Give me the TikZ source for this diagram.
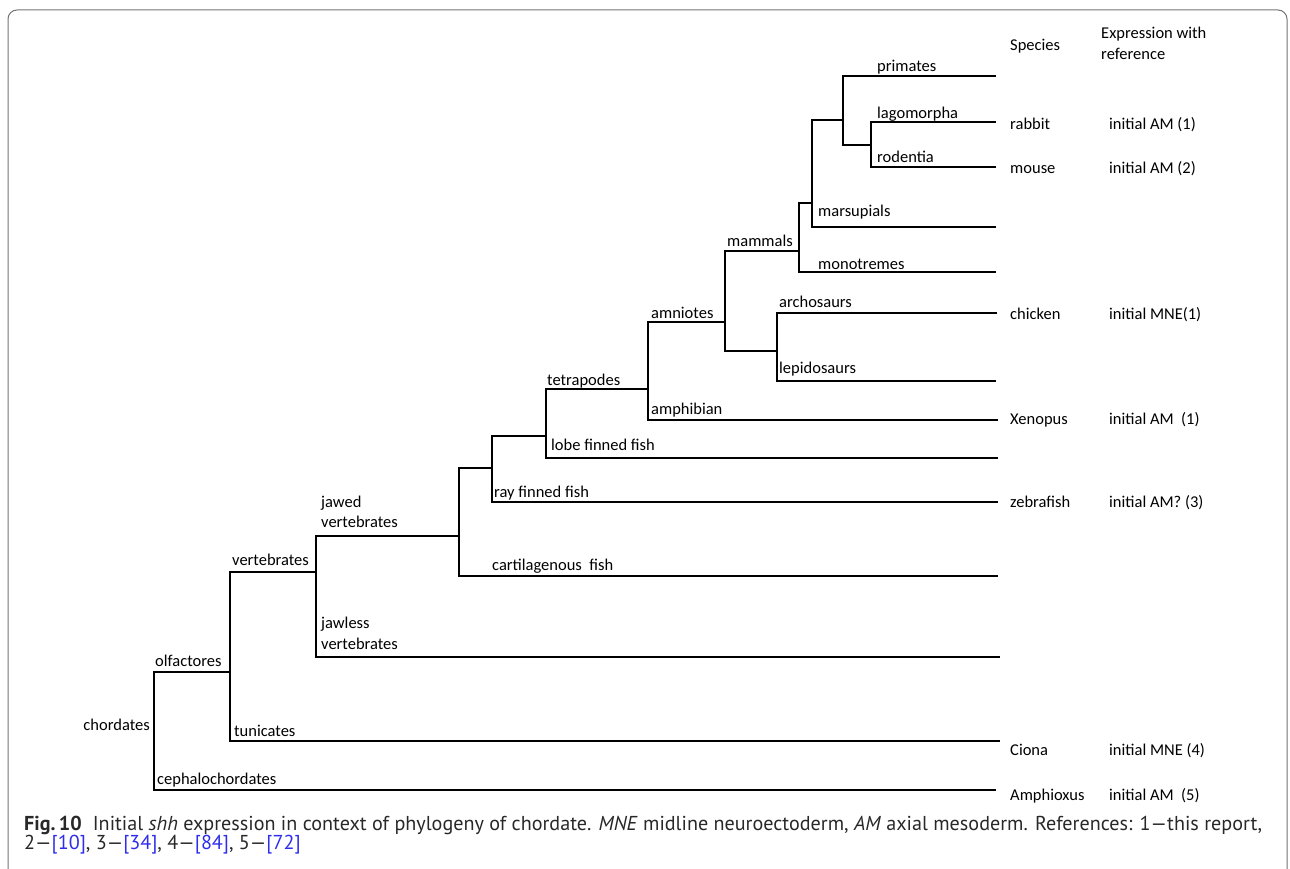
\documentclass[tikz,border=0pt]{standalone}
\usepackage{fontspec}
\usepackage{graphicx}
\setmainfont{Carlito}
\newfontfamily\capfont{PT Sans}
\definecolor{linkblue}{RGB}{45,45,235}
\definecolor{captext}{RGB}{40,40,40}
\newcommand{\capfontsize}{\capfont\fontsize{18}{20}\selectfont}
\newcommand{\caplineone}{\textbf{Fig.\,10}\hspace{0.55em}Initial \textit{shh} expression in context of phylogeny of chordate. \textit{MNE} midline neuroectoderm, \textit{AM} axial mesoderm. References: 1—this report,}
\newcommand{\caplinetwo}{2—{\color{linkblue}[10]}, 3—{\color{linkblue}[34]}, 4—{\color{linkblue}[84]}, 5—{\color{linkblue}[72]}}
\newlength{\capwidthone}
\begin{document}
\settowidth{\capwidthone}{\capfontsize\caplineone}
\begin{tikzpicture}[x=1pt,y=-1pt,
  branch/.style={draw=black, line width=2.1pt, line join=miter},
  lab/.style={anchor=base west, inner sep=0pt, font=\fontsize{16.5}{19.8}\selectfont, text=black},
  labr/.style={anchor=base east, inner sep=0pt, font=\fontsize{16.5}{19.8}\selectfont, text=black},
  frame/.style={draw=black!55, line width=1pt, rounded corners=9pt}]
\useasboundingbox (0,0) rectangle (1290,869);
\pgfmathsetmacro{\capscale}{1238/\capwidthone}
% frame
\draw[frame] (8,900) -- (8,10) -- (1287,10) -- (1287,900);
% internal nodes (join points)
\coordinate (glires) at (871,145);
\coordinate (euarch) at (843,120);
\coordinate (theria) at (812,203);
\coordinate (mammalsn) at (799,251);
\coordinate (sauria) at (777,351);
\coordinate (amniotesn) at (725,322);
\coordinate (tetrapodsn) at (648,389);
\coordinate (sarco) at (546,436);
\coordinate (osteich) at (492,468);
\coordinate (gnatho) at (459,536);
\coordinate (vertn) at (316,572);
\coordinate (olfn) at (230,672);
\coordinate (chordn) at (154,731);
% leaves
\coordinate (primatesl) at (996,76);
\coordinate (lagol) at (996,122);
\coordinate (rodl) at (996,167);
\coordinate (marsl) at (996,227);
\coordinate (monol) at (996,272);
\coordinate (archol) at (997,313);
\coordinate (lepidol) at (996,381);
\coordinate (amphibl) at (998,420);
\coordinate (lobel) at (998,458);
\coordinate (rayl) at (998,502);
\coordinate (cartl) at (998,576);
\coordinate (jawlessl) at (1000,657);
\coordinate (tunicl) at (1000,741);
\coordinate (cephalol) at (996,790);
% branches
\draw[branch] (primatesl) -| (euarch);
\draw[branch] (glires) -| (euarch);
\draw[branch] (lagol) -| (glires);
\draw[branch] (rodl) -| (glires);
\draw[branch] (euarch) -| (theria);
\draw[branch] (marsl) -| (theria);
\draw[branch] (theria) -| (mammalsn);
\draw[branch] (monol) -| (mammalsn);
\draw[branch] (mammalsn) -| (amniotesn);
\draw[branch] (sauria) -| (amniotesn);
\draw[branch] (archol) -| (sauria);
\draw[branch] (lepidol) -| (sauria);
\draw[branch] (amniotesn) -| (tetrapodsn);
\draw[branch] (amphibl) -| (tetrapodsn);
\draw[branch] (tetrapodsn) -| (sarco);
\draw[branch] (lobel) -| (sarco);
\draw[branch] (sarco) -| (osteich);
\draw[branch] (rayl) -| (osteich);
\draw[branch] (osteich) -| (gnatho);
\draw[branch] (cartl) -| (gnatho);
\draw[branch] (gnatho) -| (vertn);
\draw[branch] (jawlessl) -| (vertn);
\draw[branch] (vertn) -| (olfn);
\draw[branch] (tunicl) -| (olfn);
\draw[branch] (olfn) -| (chordn);
\draw[branch] (cephalol) -| (chordn);
% clade labels
\node[lab] (tprimates) at (877,72) {primates};
\node[lab] (tlago) at (877,119) {lagomorpha};
\node[lab] (trod) at (877,163) {rodentia};
\node[lab] (tmars) at (818,217) {marsupials};
\node[lab] (tmono) at (818,269) {monotremes};
\node[lab] (tmammals) at (727,246) {mammals};
\node[lab] (tarcho) at (779,307) {archosaurs};
\node[lab] (tlepido) at (779,373) {lepidosaurs};
\node[lab] (tamniotes) at (651,318) {amniotes};
\node[lab] (ttetra) at (547,385) {tetrapodes};
\node[lab] (tamphib) at (651,414) {amphibian};
\node[lab] (tlobe) at (551,450) {lobe finned fish};
\node[lab] (tray) at (494,497) {ray finned fish};
\node[lab] (tcart) at (492,570) {cartilagenous\ \ fish};
\node[lab] (tjawed) at (321,507) {jawed};
\node[lab] (tjawed2) at (321,527) {vertebrates};
\node[lab] (tvert) at (232,565) {vertebrates};
\node[lab] (tjawless) at (321,628) {jawless};
\node[lab] (tjawless2) at (321,649) {vertebrates};
\node[lab] (tolf) at (155,666) {olfactores};
\node[labr] (tchord) at (150,730) {chordates};
\node[lab] (ttunic) at (234,736) {tunicates};
\node[lab] (tcephalo) at (157,784) {cephalochordates};
% columns
\node[lab] (hspecies) at (1010,51) {Species};
\node[lab] (hexpr) at (1101,39) {Expression with};
\node[lab] (hexpr2) at (1101,60) {reference};
\node[lab] (srabbit) at (1010,130) {rabbit};
\node[lab] (erabbit) at (1109,130) {initial AM (1)};
\node[lab] (smouse) at (1010,174) {mouse};
\node[lab] (emouse) at (1109,174) {initial AM (2)};
\node[lab] (schicken) at (1010,319) {chicken};
\node[lab] (echicken) at (1109,319) {initial MNE(1)};
\node[lab] (sxenopus) at (1010,424) {Xenopus};
\node[lab] (exenopus) at (1109,424) {initial AM\ \ (1)};
\node[lab] (szebra) at (1010,507) {zebrafish};
\node[lab] (ezebra) at (1109,507) {initial AM? (3)};
\node[lab] (sciona) at (1010,755) {Ciona};
\node[lab] (eciona) at (1109,755) {initial MNE (4)};
\node[lab] (samph) at (1010,800) {Amphioxus};
\node[lab] (eamph) at (1109,800) {initial AM\ \ (5)};
% caption
\node[anchor=base west, inner sep=0pt, text=captext] (cap1) at (24,830) {\scalebox{\capscale}{\capfontsize\caplineone}};
\node[anchor=base west, inner sep=0pt, text=captext] (cap2) at (24,849) {\scalebox{\capscale}{\capfontsize\caplinetwo}};
\end{tikzpicture}
\end{document}
